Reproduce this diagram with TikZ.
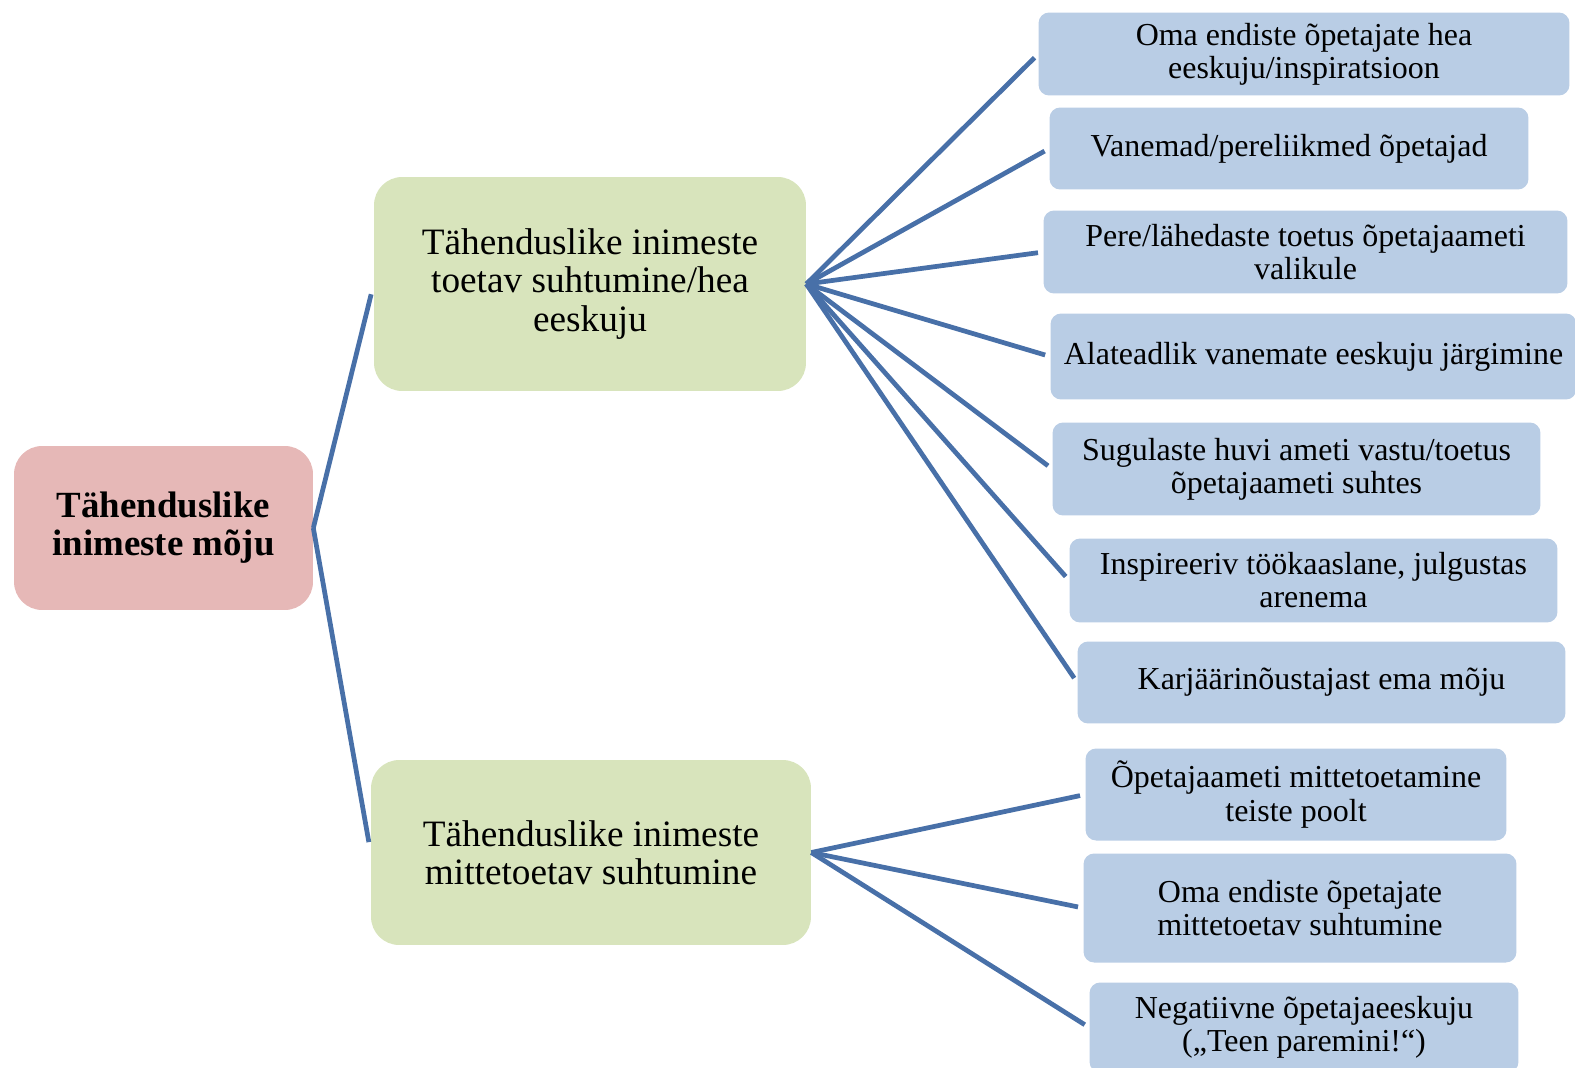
\documentclass[tikz,border=0pt]{standalone}
\usepackage{fontspec}
\setmainfont{Liberation Serif}
\usetikzlibrary{positioning}

\definecolor{rootfill}{RGB}{230,184,183}
\definecolor{groupfill}{RGB}{216,228,188}
\definecolor{leaffill}{RGB}{185,205,229}
\definecolor{linkcolor}{RGB}{72,112,168}

\tikzset{
  rootbox/.style={fill=rootfill, rounded corners=16pt, align=center,
    font=\fontsize{21}{21.7}\selectfont\bfseries},
  groupbox/.style={fill=groupfill, rounded corners=16pt, align=center,
    font=\fontsize{21.2}{21.9}\selectfont},
  leafbox/.style={fill=leaffill, rounded corners=6pt, align=center,
    font=\fontsize{18.2}{18.8}\selectfont},
  link/.style={linkcolor, line width=2.7pt, shorten >=3pt}
}

\begin{document}
\begin{tikzpicture}[x=0.02cm, y=-0.02cm]
  \useasboundingbox (0,0) rectangle (1575,1068);

  % Nodo principal
  \node[rootbox, minimum width=5.98cm, minimum height=3.28cm] (root) at (163.5,528) {Tähenduslike\\inimeste mõju};

  % Segundo nivel
  \node[groupbox, minimum width=8.64cm, minimum height=4.28cm] (support) at (590,284) {Tähenduslike inimeste\\toetav suhtumine/hea\\eeskuju};
  \node[groupbox, minimum width=8.8cm, minimum height=3.7cm] (nosupport) at (591,852.5) {Tähenduslike inimeste\\mittetoetav suhtumine};

  % Hojas del primer grupo
  \node[leafbox, minimum width=10.62cm, minimum height=1.66cm] (s1) at (1304,54) {Oma endiste õpetajate hea\\eeskuju/inspiratsioon};
  \node[leafbox, minimum width=9.58cm, minimum height=1.64cm] (s2) at (1289,148.5) {Vanemad/pereliikmed õpetajad};
  \node[leafbox, minimum width=10.48cm, minimum height=1.66cm] (s3) at (1305.5,252) {Pere/lähedaste toetus õpetajaameti\\valikule};
  \node[leafbox, minimum width=10.52cm, minimum height=1.72cm] (s4) at (1313.5,356.5) {Alateadlik vanemate eeskuju järgimine};
  \node[leafbox, minimum width=9.76cm, minimum height=1.86cm] (s5) at (1296.5,469) {Sugulaste huvi ameti vastu/toetus\\õpetajaameti suhtes};
  \node[leafbox, minimum width=9.76cm, minimum height=1.68cm] (s6) at (1313.5,580.5) {Inspireeriv töökaaslane, julgustas\\arenema};
  \node[leafbox, minimum width=9.76cm, minimum height=1.64cm] (s7) at (1321.5,682.5) {Karjäärinõustajast ema mõju};

  % Hojas del segundo grupo
  \node[leafbox, minimum width=8.42cm, minimum height=1.84cm] (n1) at (1296,794.5) {Õpetajaameti mittetoetamine\\teiste poolt};
  \node[leafbox, minimum width=8.66cm, minimum height=2.18cm] (n2) at (1300,908) {Oma endiste õpetajate\\mittetoetav suhtumine};
  \node[leafbox, minimum width=8.58cm, minimum height=1.8cm] (n3) at (1304,1027.5) {Negatiivne õpetajaeeskuju\\(„Teen paremini!“)};

  % Conexiones desde el nodo principal
  \draw[link, shorten >=6pt] (root.east) -- (support.west);
  \draw[link, shorten >=6pt] (root.east) -- (nosupport.west);

  % Conexiones del primer grupo
  \draw[link] (support.east) -- (s1.west);
  \draw[link] (support.east) -- (s2.west);
  \draw[link] (support.east) -- (s3.west);
  \draw[link] (support.east) -- (s4.west);
  \draw[link] (support.east) -- (s5.west);
  \draw[link] (support.east) -- (s6.west);
  \draw[link] (support.east) -- (s7.west);

  % Conexiones del segundo grupo
  \draw[link] (nosupport.east) -- (n1.west);
  \draw[link] (nosupport.east) -- (n2.west);
  \draw[link] (nosupport.east) -- (n3.west);
\end{tikzpicture}
\end{document}
